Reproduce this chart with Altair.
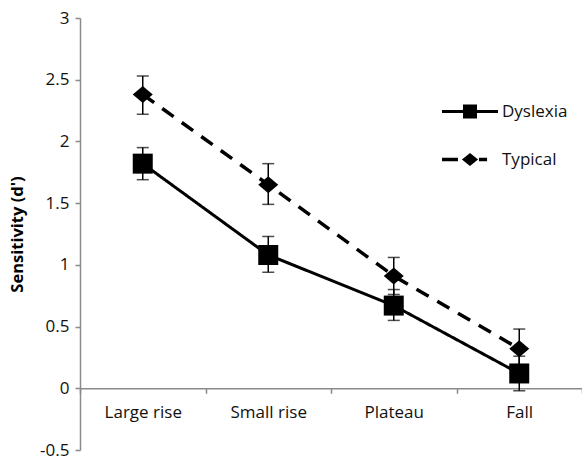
import altair as alt
import pandas as pd

categories = ["Large rise", "Small rise", "Plateau", "Fall"]
series_names = ["Dyslexia", "Typical"]

dyslexia_mean = [1.82, 1.08, 0.67, 0.12]
dyslexia_low = [1.69, 0.94, 0.55, -0.02]
dyslexia_high = [1.95, 1.23, 0.80, 0.26]

typical_mean = [2.38, 1.65, 0.91, 0.32]
typical_low = [2.22, 1.49, 0.76, 0.16]
typical_high = [2.53, 1.82, 1.06, 0.48]

y_ticks = [-0.5, 0, 0.5, 1, 1.5, 2, 2.5, 3]

rows = []
for name, means, lows, highs in [
    ("Dyslexia", dyslexia_mean, dyslexia_low, dyslexia_high),
    ("Typical", typical_mean, typical_low, typical_high),
]:
    for c, m, lo, hi in zip(categories, means, lows, highs):
        rows.append({"category": c, "series": name, "value": m, "low": lo, "high": hi})
df = pd.DataFrame(rows)

FONT = "Open Sans"
AXIS_GRAY = "#8a8a8a"
TEXT = "#111111"
PLOT_W, PLOT_H = 502, 432
Y_MIN, Y_MAX = -0.5, 3
zero_offset = -PLOT_H * (0 - Y_MIN) / (Y_MAX - Y_MIN)

x_enc = alt.X(
    "category:N",
    sort=categories,
    scale=alt.Scale(type="band", domain=categories, paddingInner=0, paddingOuter=0),
    axis=alt.Axis(
        title=None, orient="bottom", offset=zero_offset, tickBand="extent",
        domainColor=AXIS_GRAY, domainWidth=1.5, tickColor=AXIS_GRAY, tickWidth=1.5,
        tickSize=5, labelFont=FONT, labelFontSize=17, labelColor=TEXT,
        labelPadding=19, labelAngle=0, labelAlign="center", labelFlush=False, grid=False,
    ),
)

y_scale = alt.Scale(domain=[Y_MIN, Y_MAX], nice=False, zero=False)
y_axis = alt.Axis(
    title="Sensitivity (d')", values=y_ticks, labelExpr="'' + datum.value",
    domainColor=AXIS_GRAY, domainWidth=1.5, tickColor=AXIS_GRAY, tickWidth=1.5,
    tickSize=5, labelFont=FONT, labelFontSize=17, labelColor=TEXT,
    labelPadding=6, grid=False,
    titleFont=FONT, titleFontSize=16.5, titleFontWeight="bold", titleColor="#000000",
    titleAngle=-90, titleX=-63, titleY=PLOT_H / 2, titleAlign="center", titleBaseline="middle",
)

base = alt.Chart(df)

lines = base.mark_line(color="black").encode(
    x=x_enc,
    y=alt.Y("value:Q", scale=y_scale, axis=y_axis),
    detail="series:N",
    strokeDash=alt.StrokeDash("series:N", scale=alt.Scale(domain=series_names, range=[[1, 0], [14, 10]]), legend=None),
    strokeWidth=alt.StrokeWidth("series:N", scale=alt.Scale(domain=series_names, range=[3, 3.5]), legend=None),
)

err = base.mark_rule(color="black", strokeWidth=1.5).encode(
    x=alt.X("category:N", sort=categories),
    y=alt.Y("low:Q"),
    y2="high:Q",
)
cap_lo = base.mark_tick(color="black", size=12, thickness=1.5).encode(
    x=alt.X("category:N", sort=categories), y=alt.Y("low:Q"),
)
cap_hi = base.mark_tick(color="black", size=12, thickness=1.5).encode(
    x=alt.X("category:N", sort=categories), y=alt.Y("high:Q"),
)

diamond_path = "M-1,0L0,-0.85L1,0L0,0.85Z"
points = base.mark_point(filled=True, opacity=1, color="black", size=400).encode(
    x=alt.X("category:N", sort=categories),
    y=alt.Y("value:Q"),
    shape=alt.Shape("series:N", scale=alt.Scale(domain=series_names, range=["square", diamond_path]), legend=None),
)

legend_dys = "M-1,-0.054H1V0.054H-1Z M-0.25,-0.25H0.25V0.25H-0.25Z"
legend_typ = "M-1,-0.06H-0.43V0.06H-1Z M-0.29,0L0,-0.23L0.29,0L0,0.23Z M0.32,-0.06H0.61V0.06H0.32Z"
SYM = 56 * 56
legend_layer = base.transform_filter("false").mark_point(filled=True, opacity=1, color="black", size=SYM).encode(
    shape=alt.Shape(
        "series:N",
        scale=alt.Scale(domain=series_names, range=[legend_dys, legend_typ]),
        legend=alt.Legend(
            title=None, orient="none", legendX=362, legendY=65.5, padding=0,
            symbolSize=SYM, symbolFillColor="black", symbolStrokeWidth=0, symbolStrokeColor="black",
            symbolOpacity=1, labelFont=FONT, labelFontSize=17, labelColor=TEXT,
            labelOffset=4, rowPadding=12,
        ),
    ),
)

chart = (
    alt.layer(err, cap_lo, cap_hi, lines, points, legend_layer)
    .resolve_scale(shape="independent")
    .properties(
        width=PLOT_W, height=PLOT_H,
        autosize=alt.AutoSizeParams(type="none"),
        padding={"left": 80, "top": 18, "right": 0, "bottom": 9},
        background="white",
    )
    .configure_view(stroke=None)
)

chart.save("out.html", embed_options={"renderer": "svg", "actions": False})
